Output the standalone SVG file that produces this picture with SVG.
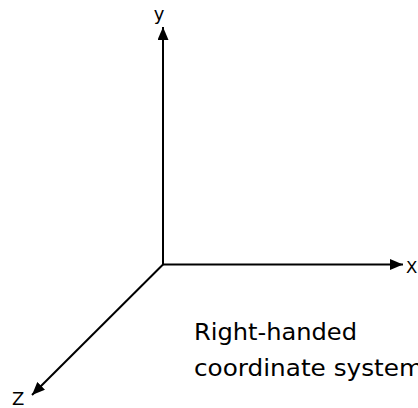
<svg xmlns="http://www.w3.org/2000/svg" width="418" height="408" viewBox="0 0 418 408">
<defs>
<style>
.axis{stroke:#000;stroke-width:2;fill:none}
.lbl{font-family:"DejaVu Sans",sans-serif;fill:#000}
</style>
<marker id="arr" markerUnits="userSpaceOnUse" markerWidth="13" markerHeight="11" refX="13" refY="5.5" orient="auto">
<path d="M0,0 L13,5.5 L0,11 z" fill="#000"/>
</marker>
</defs>
<rect width="418" height="408" fill="#fff"/>
<g id="connectors">
<line class="axis" x1="163" y1="264.5" x2="163" y2="27" marker-end="url(#arr)"/>
<line class="axis" x1="162" y1="264.5" x2="403" y2="264.5" marker-end="url(#arr)"/>
<line class="axis" x1="163" y1="264.5" x2="32" y2="395" marker-end="url(#arr)"/>
</g>
<g id="label-y"><text class="lbl" x="159" y="20" font-size="18" text-anchor="middle">y</text></g>
<g id="label-x"><text class="lbl" x="406" y="273" font-size="16.5">X</text></g>
<g id="label-z"><text class="lbl" x="12" y="405" font-size="18">Z</text></g>
<g id="caption">
<text class="lbl" x="194" y="340" font-size="23" textLength="163" lengthAdjust="spacingAndGlyphs">Right-handed</text>
<text class="lbl" x="194" y="376" font-size="23" textLength="229" lengthAdjust="spacingAndGlyphs">coordinate system</text>
</g>
</svg>
